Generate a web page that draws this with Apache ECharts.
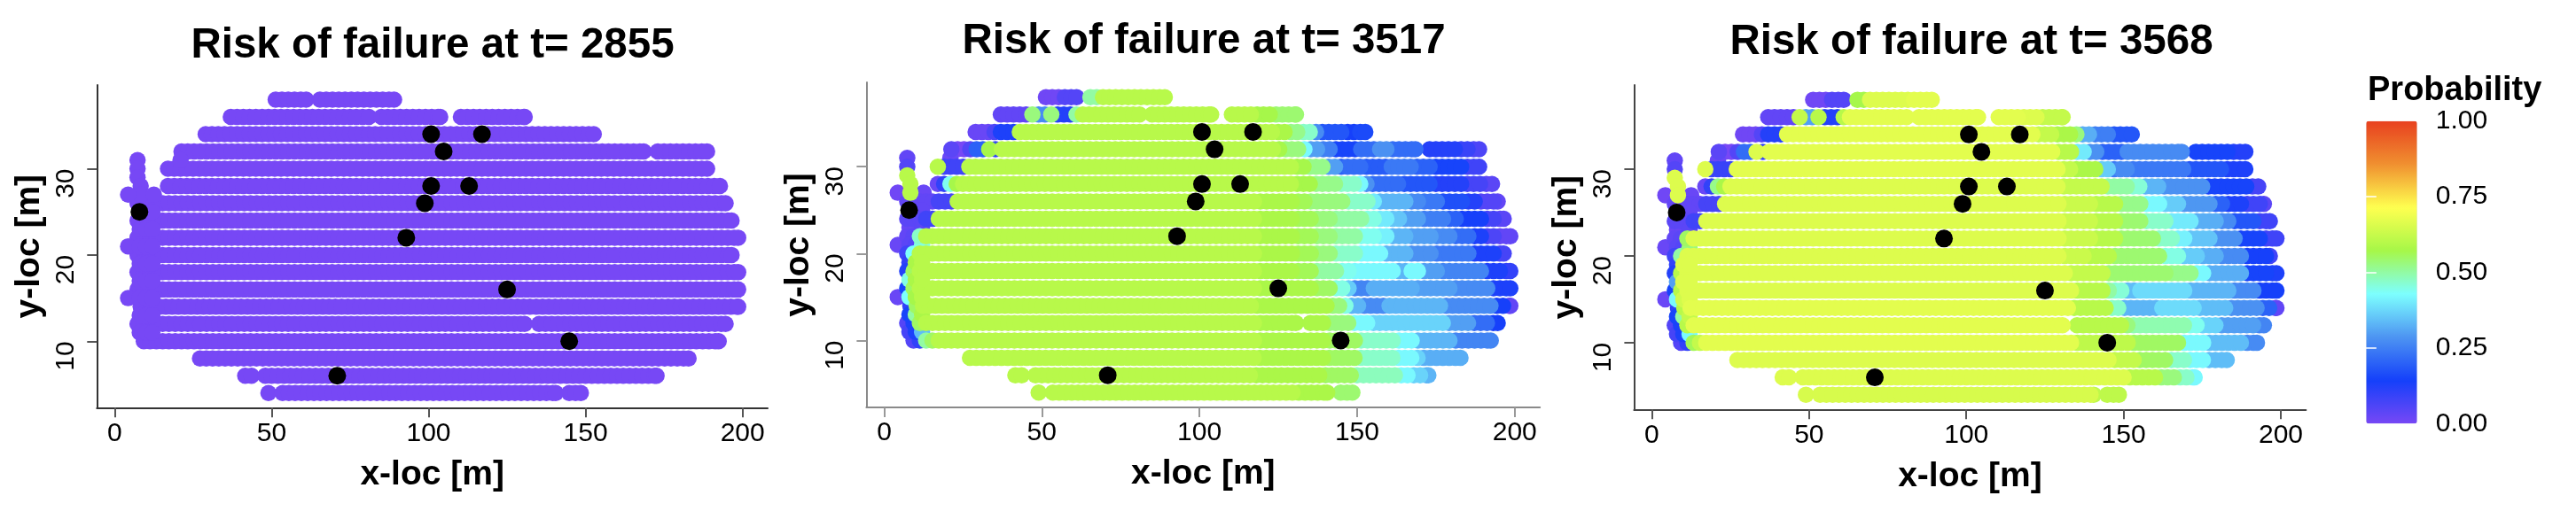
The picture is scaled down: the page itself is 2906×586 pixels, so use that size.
<!DOCTYPE html>
<html>
<head>
<meta charset="utf-8">
<title>Risk of failure</title>
<script src="https://cdn.jsdelivr.net/npm/echarts@6/dist/echarts.min.js"></script>
<style>
  html, body { margin: 0; padding: 0; background: #fff; }
  #chart { width: 2906px; height: 586px; }
</style>
</head>
<body>
<div id="chart"></div>
<script>
const times = [2855, 3517, 3568];
const xTicks = [0, 50, 100, 150, 200];
const yTicks = [10, 20, 30];
const legendLabels = [0, 0.25, 0.5, 0.75, 1];
const colorStops = ['#7748F5', '#1440FA', '#4D94F2', '#7DFFFF', '#A6F748', '#FFFF50', '#F09030', '#E8401F'];

// sensor locations, same in all panels
const sensorX = [100.8, 117, 104.8, 100.8, 112.9, 98.8, 7.9, 92.9, 125, 144.8, 70.9];
const sensorY = [34, 34, 32, 28, 28, 26, 25, 22, 16, 10, 6];

// measuring lines, top to bottom, 2 m between points along a line
const rowY = [38, 36, 34, 32, 30, 28, 26, 24, 22, 20, 18, 16, 14, 12, 10, 8, 6, 4];
const rowSpans = [
  [[51.3, 61], [65.4, 89]],
  [[37, 81], [85, 103.7], [110.3, 130.6]],
  [[29, 152.6]],
  [[21.3, 168.5], [173, 188.7]],
  [[17, 188.7]],
  [[17, 192.8]],
  [[7.3, 194.6]],
  [[7.3, 196.5]],
  [[7.3, 198.6]],
  [[7.3, 196.5]],
  [[7.3, 198.6]],
  [[7.3, 198.6]],
  [[8.3, 198.6]],
  [[7.3, 130.6], [135.2, 194.6]],
  [[9.3, 192.4]],
  [[27.2, 182.8]],
  [[41.6, 43.6], [48, 172.6]],
  [[49, 49], [53.5, 140.5], [144.8, 148.5]]
];

// extra points at the left end, between the lines
const extraX = [7.3, 7.3, 7.3, 8.3, 8.3, 4.3, 12.5, 21, 8, 10, 12, 8, 10, 12, 4.3, 8, 10, 12, 8, 10, 12, 8, 10, 12, 4.3, 8, 10, 12, 8, 10, 12, 8, 10, 12];
const extraY = [31, 30, 29, 28, 27, 27, 27, 31, 25, 25, 25, 23, 23, 23, 21, 21, 21, 21, 19, 19, 19, 17, 17, 17, 15, 15, 15, 15, 13, 13, 13, 11, 11, 11];
const extra2855 = extraX.map(() => 0);
const extra3517 = [.03, .05, .6, .6, .6, .01, .02, .02, .05, .03, .03, .02, .02, .04, .02, .04, .05, .45, .1, .58, .6, .45, .58, .6, .02, .43, .57, .6, .15, .5, .58, .07, .13, .34];
const extra3568 = [.03, .05, .66, .66, .66, .01, .02, .02, .05, .03, .03, .02, .02, .04, .02, .04, .05, .53, .1, .66, .66, .3, .66, .66, .02, .42, .64, .66, .15, .5, .62, .07, .13, .42];

// probability along each line: x where a reading starts, reading, x, reading, ...
const runs2855 = rowY.map(() => [0, 0]);
const runs3517 = [
  [0, .01, 57, .05, 64, .5, 68, .6],
  [0, .03, 46, .53, 48, .27, 52, .53, 54, .12, 60, .5, 62, .6, 118, .57, 124, .54],
  [0, .02, 35, .06, 37, .13, 43, .6, 124, .58, 128, .52, 133, .47, 136, .27, 139, .18, 146, .14, 151, .16],
  [0, .04, 23, 0, 27, .05, 29, .2, 32, .57, 34.5, .1, 36, .6, 125, .57, 127, .53, 133, .42, 135, .3, 138, .25, 142, .15, 150, .22, 156, .28, 161, .22, 170, .12, 183, .09, 187, .06],
  [0, .6, 18, .08, 26, .6, 131, .57, 134, .52, 141, .3, 144, .2, 147, .22, 152, .19, 160, .24, 168, .2, 175, .15, 184, .08],
  [0, .02, 18, .1, 20, .44, 22, .57, 24, .6, 131, .57, 137, .52, 145, .47, 151, .42, 153, .28, 155, .22, 165, .18, 175, .12, 184, .07, 191, .04],
  [0, .03, 17, .07, 23, .6, 118, .58, 131, .56, 135, .53, 146, .47, 154, .4, 157, .33, 166, .27, 171, .24, 177, .17, 184, .12, 188, .05, 194, .03],
  [0, .04, 13, .08, 17, .6, 118, .58, 131, .56, 137, .53, 143, .5, 152, .45, 156, .4, 160, .35, 165, .3, 171, .25, 179, .2, 183, .14, 191, .07, 195, .04],
  [0, .03, 9, .04, 11, .47, 13, .6, 118, .58, 131, .56, 137, .53, 142, .5, 151, .44, 157, .41, 161, .33, 167, .3, 174, .27, 180, .22, 186, .13, 191, .06, 195, .03],
  [0, .08, 9, .43, 10, .6, 118, .58, 131, .56, 137, .53, 143, .47, 150, .42, 159, .33, 167, .28, 175, .24, 186, .13, 194, .07],
  [0, .12, 9, .55, 11, .6, 118, .58, 130, .56, 137, .5, 144, .44, 149, .42, 163, .33, 167, .42, 170, .3, 177, .26, 190, .13, 197, .1],
  [0, .15, 9, .55, 11, .6, 118, .58, 137, .55, 143, .45, 146, .36, 149, .26, 155, .32, 168, .3, 180, .27, 193, .13],
  [0, .1, 10, .55, 12, .6, 118, .58, 141, .53, 145, .45, 147, .33, 151, .27, 160, .33, 177, .27, 193, .14, 198, .03],
  [0, .05, 9, .13, 11, .55, 13, .6, 118, .58, 141, .53, 149, .42, 153.5, .37, 179, .3, 186, .22, 193, .14],
  [0, .05, 11, .1, 13, .5, 15, .55, 17, .6, 118, .58, 141, .55, 150, .47, 162, .42, 169, .33, 181, .26],
  [0, .6, 118, .58, 141, .55, 150, .47, 163, .42, 167.5, .37, 171, .32],
  [0, .6, 118, .58, 139, .55, 150, .48, 163, .42, 167, .37, 171, .33],
  [0, .6, 130, .58, 144, .54]
];
const runs3568 = [
  [0, .01, 57, .05, 64, .57, 68, .66, 82, .67],
  [0, .03, 46, .62, 48, .3, 52, .6, 54, .12, 60, .6, 62, .67, 118, .66, 124, .62],
  [0, .01, 35, .05, 37, .12, 43, .67, 122, .62, 128, .58, 133.4, .53, 135.3, .32, 140, .25, 146, .18],
  [0, .04, 23, 0, 27, .05, 29, .22, 32, .66, 34.5, .1, 36, .67, 127.7, .6, 135.3, .4, 137.6, .28, 142, .2, 150.3, .27, 171, .15, 185, .12],
  [0, .66, 18, .09, 26, .67, 129.6, .62, 135, .58, 141.4, .36, 145.6, .24, 147.5, .27, 153, .24, 170, .18, 183, .13],
  [0, .02, 18, .1, 20, .52, 22, .58, 24, .66, 130, .62, 144.6, .5, 153, .46, 155.5, .33, 161.6, .28, 175.7, .15, 190.7, .07],
  [0, .03, 17, .07, 23, .66, 130, .63, 140, .6, 147.5, .52, 156, .42, 162.5, .36, 169, .29, 177.5, .2, 183, .13, 189, .08, 193.5, .04],
  [0, .04, 13, .08, 17, .66, 130, .63, 140, .6, 147.5, .54, 157, .47, 165.3, .4, 172, .32, 179.4, .27, 185, .18, 192.6, .08],
  [0, .03, 9, .04, 11, .55, 13, .66, 130, .63, 140, .6, 148.4, .54, 159.7, .47, 167.2, .41, 171, .35, 177.5, .28, 187, .15, 193.5, .08],
  [0, .08, 9, .5, 10, .66, 130, .63, 138, .6, 145.6, .54, 162.5, .45, 169, .36, 174.7, .32, 179.4, .27, 188, .14, 195.4, .08],
  [0, .12, 9, .6, 11, .66, 131.5, .62, 143.7, .54, 163.5, .52, 172, .42, 175.7, .32, 188.8, .15, 197.3, .13],
  [0, .15, 9, .6, 11, .66, 135, .6, 143.7, .5, 145.6, .46, 149.4, .34, 155, .38, 170, .33, 185, .27, 192.6, .14],
  [0, .1, 10, .6, 12, .67, 133.4, .6, 145.6, .47, 149.4, .33, 160.6, .38, 173.8, .34, 183.2, .28, 192.6, .2, 198, .03],
  [0, .05, 9, .13, 11, .6, 13, .67, 133.4, .6, 149.4, .53, 153, .49, 170, .44, 174.7, .37, 179.4, .3, 192.6, .26],
  [0, .05, 11, .1, 13, .56, 15, .62, 17, .67, 135, .61, 153, .55, 168, .42, 176.6, .34, 188.8, .27],
  [0, .66, 145.6, .62, 155, .55, 164.4, .47, 171, .42, 175.7, .34],
  [0, .66, 151, .6, 161.6, .53, 168, .47, 172, .42],
  [0, .65, 140, .61]
];

const panelRuns = [runs2855, runs3517, runs3568];
const panelExtra = [extra2855, extra3517, extra3568];

const FONT = '"Liberation Sans", Arial, sans-serif';
const XMIN = -5.65, XMAX = 208, YMIN = 2.3, YMAX = 39.7;

// pixel frame of each panel
const frames = [
  { left: 109.3, right: 866, top: 96, bottom: 460.3, axis: '#333', tick: '#555', titleX: 488, titleY: 28 },
  { left: 977.4, right: 1737.2, top: 93, bottom: 460, axis: '#8a8a8a', tick: '#999', titleX: 1358, titleY: 23 },
  { left: 1843.4, right: 2601.4, top: 96, bottom: 462.3, axis: '#444', tick: '#555', titleX: 2224, titleY: 24 }
];

function readingAt(runs, x) {
  let p = runs[1];
  for (let i = 0; i < runs.length; i += 2) {
    if (x >= runs[i]) p = runs[i + 1];
  }
  return p;
}

function panelPoints(k) {
  const pts = [];
  rowY.forEach((y, r) => {
    rowSpans[r].forEach(span => {
      for (let x = span[0]; x < span[1]; x += 2) {
        pts.push([x, y, readingAt(panelRuns[k][r], x)]);
      }
      pts.push([span[1], y, readingAt(panelRuns[k][r], span[1])]);
    });
  });
  extraX.forEach((x, i) => pts.push([x, extraY[i], panelExtra[k][i]]));
  // high values end up on top, as in the original plot
  return pts.sort((a, b) => a[2] - b[2]);
}

const sensors = sensorX.map((x, i) => [x, sensorY[i]]);

const grids = [], xAxes = [], yAxes = [], series = [], titles = [];

frames.forEach((f, k) => {
  grids.push({ left: f.left, top: f.top, width: f.right - f.left, height: f.bottom - f.top, containLabel: false });
  titles.push({
    text: 'Risk of failure at t= ' + times[k],
    left: f.titleX, top: f.titleY, textAlign: 'center', padding: 0,
    textStyle: { fontFamily: FONT, fontSize: 47.5, fontWeight: 'bold', color: '#000' }
  });
  xAxes.push({
    type: 'value', gridIndex: k, min: XMIN, max: XMAX,
    name: 'x-loc [m]', nameLocation: 'middle', nameGap: 56,
    nameTextStyle: { fontFamily: FONT, fontSize: 39, fontWeight: 'bold', color: '#000' },
    splitLine: { show: false },
    axisLine: { show: true, onZero: false, lineStyle: { color: f.axis, width: 2 } },
    axisTick: { show: true, length: 11, customValues: xTicks, lineStyle: { color: f.tick, width: 2 } },
    axisLabel: { customValues: xTicks, margin: 14, fontFamily: FONT, fontSize: 30, color: '#000' }
  });
  yAxes.push({
    type: 'value', gridIndex: k, min: YMIN, max: YMAX,
    name: 'y-loc [m]', nameLocation: 'middle', nameGap: 57,
    nameTextStyle: { fontFamily: FONT, fontSize: 39, fontWeight: 'bold', color: '#000', padding: [0, 0, 0, 0] },
    splitLine: { show: false },
    axisLine: { show: true, onZero: false, lineStyle: { color: f.axis, width: 2 } },
    axisTick: { show: true, length: 11, customValues: yTicks, lineStyle: { color: f.tick, width: 2 } },
    axisLabel: {
      customValues: yTicks, rotate: 90, align: 'right', verticalAlign: 'bottom', margin: 20,
      fontFamily: FONT, fontSize: 30, color: '#000'
    }
  });
  series.push({
    type: 'scatter', xAxisIndex: k, yAxisIndex: k, data: panelPoints(k),
    symbol: 'circle', symbolSize: 18.5, silent: true, animation: false, progressive: 0, clip: false,
    itemStyle: { opacity: 1 }, encode: { x: 0, y: 1 }
  });
});

frames.forEach((f, k) => {
  series.push({
    type: 'scatter', xAxisIndex: k, yAxisIndex: k, data: sensors,
    symbol: 'circle', symbolSize: 20, silent: true, animation: false, z: 5,
    itemStyle: { color: '#000', opacity: 1 }
  });
});

// colour legend: ticks and labels from a small 0-1 axis laid over the visualMap bar
const LEG = { left: 2669.3, top: 136.7, width: 57.4, height: 341.6 };
grids.push({ left: LEG.left, top: LEG.top, width: LEG.width, height: LEG.height });
xAxes.push({ type: 'value', gridIndex: 3, show: false, min: 0, max: 1 });
const legendTicks = [0.25, 0.5, 0.75];
yAxes.push({
  type: 'value', gridIndex: 3, position: 'right', min: 0, max: 1, z: 10,
  splitLine: { show: false }, axisLine: { show: false },
  axisTick: { show: true, inside: true, length: 11.5, customValues: legendTicks, lineStyle: { color: '#fff', width: 1.5 } },
  axisLabel: {
    customValues: legendLabels, margin: 21, fontFamily: FONT, fontSize: 30, color: '#000',
    formatter: v => v.toFixed(2)
  }
});
yAxes.push({
  type: 'value', gridIndex: 3, position: 'left', min: 0, max: 1, z: 10,
  splitLine: { show: false }, axisLine: { show: false }, axisLabel: { show: false },
  axisTick: { show: true, inside: true, length: 11.5, customValues: legendTicks, lineStyle: { color: '#fff', width: 1.5 } }
});
titles.push({
  text: 'Probability', left: 2671, top: 84, padding: 0,
  textStyle: { fontFamily: FONT, fontSize: 38, fontWeight: 'bold', color: '#000' }
});

const chart = echarts.init(document.getElementById('chart'), null, { renderer: 'canvas', width: 2906, height: 586 });
chart.setOption({
  backgroundColor: '#fff',
  animation: false,
  title: titles,
  grid: grids,
  xAxis: xAxes,
  yAxis: yAxes,
  visualMap: {
    type: 'continuous', min: 0, max: 1, dimension: 2, seriesIndex: [0, 1, 2],
    left: LEG.left, top: LEG.top, itemWidth: LEG.width, itemHeight: LEG.height,
    padding: 0, text: null, showLabel: false, calculable: false, realtime: false, hoverLink: false,
    inRange: { color: colorStops }
  },
  series: series
});
</script>
</body>
</html>
